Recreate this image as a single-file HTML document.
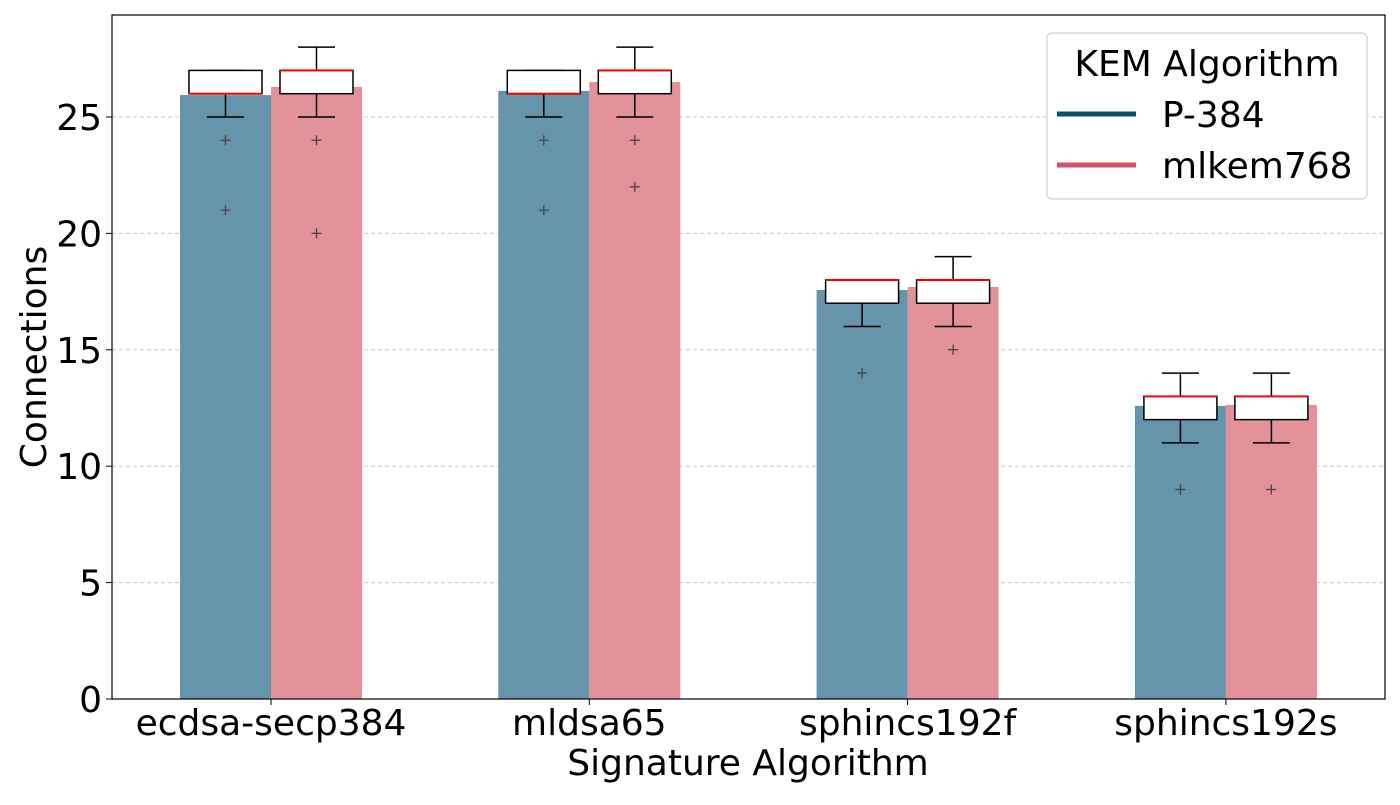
<!DOCTYPE html>
<html><head><meta charset="utf-8"><style>
body{margin:0;background:#fff}
svg{font-family:"DejaVu Sans","Liberation Sans",sans-serif}
</style></head><body>
<svg id="c" width="1400" height="800"></svg>
<script>
const categories=["ecdsa-secp384","mldsa65","sphincs192f","sphincs192s"];
const seriesNames=["P-384","mlkem768"];
const meanP384=[25.94,26.12,17.57,12.59];
const meanMlkem=[26.29,26.5,17.7,12.63];
const q1P384=[26,26,17,12], q3P384=[27,27,18,13], medP384=[26,26,18,13], wloP384=[25,25,16,11], whiP384=[27,27,18,14];
const q1Mlkem=[26,26,17,12], q3Mlkem=[27,27,18,13], medMlkem=[27,27,18,13], wloMlkem=[25,25,16,11], whiMlkem=[28,28,19,14];
const outP384=[[24,21],[24,21],[14],[9]];
const outMlkem=[[24,20],[24,22],[15],[9]];
const yTicks=[0,5,10,15,20,25];

const NS="http://www.w3.org/2000/svg";
const svg=document.getElementById('c');
const L=112,R=1385,T=15,B=699,YMAX=29.38;
const FS=36;
const y=v=>B-v*(B-T)/YMAX;
const cx=i=>271+i*318.3;
function el(tag,a,p){const e=document.createElementNS(NS,tag);for(const k in a)e.setAttribute(k,a[k]);(p||svg).appendChild(e);return e;}
function txt(s,a){const e=el('text',a);e.textContent=s;return e;}

const grid=el('g',{});
yTicks.forEach(t=>{
  if(t>0){const g=el('line',{x1:L,x2:R,y1:y(t),y2:y(t),stroke:'#c8c8c8','stroke-dasharray':'4,3','stroke-width':1},grid);
  }
  el('line',{x1:L-6,x2:L,y1:y(t),y2:y(t),stroke:'#000'});
  const tl=txt(String(t),{x:L-10,y:y(t)+13,'font-size':FS,'text-anchor':'end'});
  
});
const bw=91,boxw=73,capw=37;
const series=[
 {mean:meanP384,q1:q1P384,q3:q3P384,med:medP384,lo:wloP384,hi:whiP384,out:outP384,col:'#6694aa',off:-bw/2,name:'p384'},
 {mean:meanMlkem,q1:q1Mlkem,q3:q3Mlkem,med:medMlkem,lo:wloMlkem,hi:whiMlkem,out:outMlkem,col:'#e3929a',off:bw/2,name:'mlkem768'}];
series.forEach(s=>{categories.forEach((c,i)=>{
  const x=cx(i)+s.off;
  const b=el('rect',{x:x-bw/2,y:y(s.mean[i]),width:bw,height:B-y(s.mean[i]),fill:s.col});
  
});});
series.forEach(s=>{categories.forEach((c,i)=>{
  const x=cx(i)+s.off;
  const g=el('g',{});
  el('line',{x1:x,x2:x,y1:y(s.q1[i]),y2:y(s.lo[i]),stroke:'#000','stroke-width':1.5},g);
  el('line',{x1:x,x2:x,y1:y(s.q3[i]),y2:y(s.hi[i]),stroke:'#000','stroke-width':1.5},g);
  el('line',{x1:x-capw/2,x2:x+capw/2,y1:y(s.lo[i]),y2:y(s.lo[i]),stroke:'#000','stroke-width':1.5},g);
  el('line',{x1:x-capw/2,x2:x+capw/2,y1:y(s.hi[i]),y2:y(s.hi[i]),stroke:'#000','stroke-width':1.5},g);
  el('rect',{x:x-boxw/2,y:y(s.q3[i]),width:boxw,height:y(s.q1[i])-y(s.q3[i]),fill:'#fff',stroke:'#000','stroke-width':1.5},g);
  el('line',{x1:x-boxw/2,x2:x+boxw/2,y1:y(s.med[i]),y2:y(s.med[i]),stroke:'#ff0000','stroke-width':2},g);
  s.out[i].forEach(o=>{
    el('path',{d:`M${x-5},${y(o)}h10M${x},${y(o)-5}v10`,stroke:'#444','stroke-width':1.3},g);
  });
  if(s===series[0]){
    const tl=txt(c,{x:cx(i),y:735,'font-size':FS,'text-anchor':'middle'});
    
    el('line',{x1:cx(i),x2:cx(i),y1:B,y2:B+6,stroke:'#000'});
  }
});});
const ax=el('rect',{x:L,y:T,width:R-L,height:B-T,fill:'none',stroke:'#000','stroke-width':1.2});

const xt=txt('Signature Algorithm',{x:748,y:775,'font-size':FS,'text-anchor':'middle'});

const yt=txt('Connections',{x:0,y:0,'font-size':FS,'text-anchor':'middle',transform:'translate(46,357) rotate(-90)'});

const lg=el('g',{});
el('rect',{x:1047,y:33,width:320,height:166,rx:5,fill:'#fff',stroke:'#d0d0d0','stroke-width':1.2},lg);
const ttl=el('text',{x:1207,y:76,'font-size':FS,'text-anchor':'middle'},lg);ttl.textContent='KEM Algorithm';

const lcol=['#0b4f6c','#d64f63'];
seriesNames.forEach((n,i)=>{
  const yy=114+i*51;
  const ln=el('line',{x1:1057,x2:1136,y1:yy,y2:yy,stroke:lcol[i],'stroke-width':5},lg);
  
  const t=el('text',{x:1162,y:yy+13,'font-size':FS},lg);t.textContent=n;
  
});
</script>
</body></html>
